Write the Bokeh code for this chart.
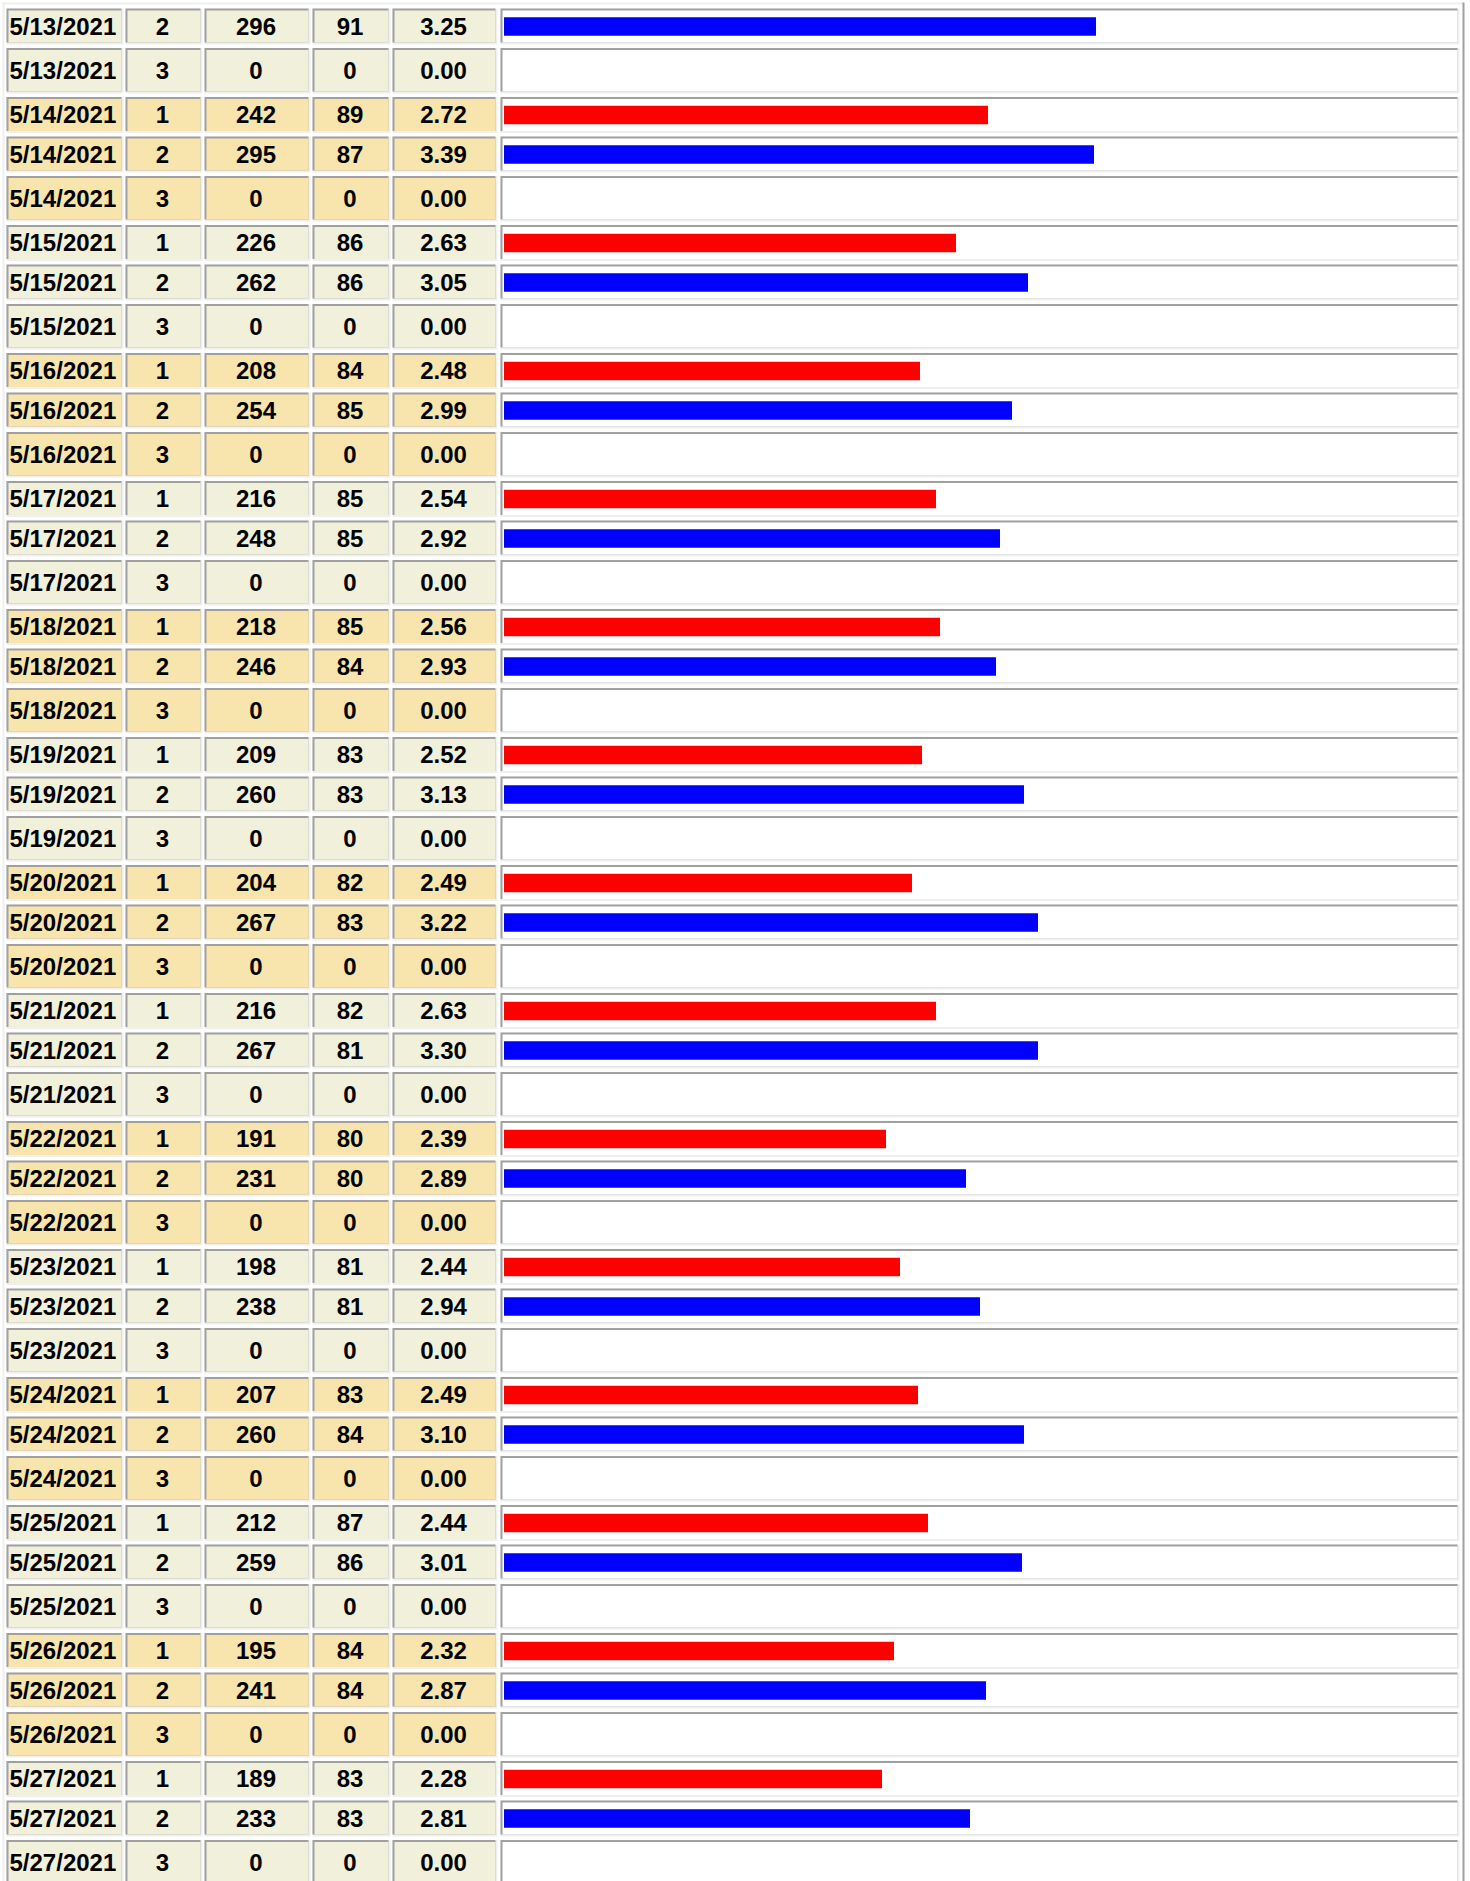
from bokeh.plotting import figure
from bokeh.models import Range1d, ColumnDataSource
from bokeh.embed import file_html
from bokeh.resources import INLINE
from bokeh.core.properties import value

# ---------------- data ----------------
dates = [
    "5/13/2021", "5/13/2021",
    "5/14/2021", "5/14/2021", "5/14/2021",
    "5/15/2021", "5/15/2021", "5/15/2021",
    "5/16/2021", "5/16/2021", "5/16/2021",
    "5/17/2021", "5/17/2021", "5/17/2021",
    "5/18/2021", "5/18/2021", "5/18/2021",
    "5/19/2021", "5/19/2021", "5/19/2021",
    "5/20/2021", "5/20/2021", "5/20/2021",
    "5/21/2021", "5/21/2021", "5/21/2021",
    "5/22/2021", "5/22/2021", "5/22/2021",
    "5/23/2021", "5/23/2021", "5/23/2021",
    "5/24/2021", "5/24/2021", "5/24/2021",
    "5/25/2021", "5/25/2021", "5/25/2021",
    "5/26/2021", "5/26/2021", "5/26/2021",
    "5/27/2021", "5/27/2021", "5/27/2021",
]
shifts = [2, 3] + [1, 2, 3] * 14
totals = [
    296, 0,
    242, 295, 0,
    226, 262, 0,
    208, 254, 0,
    216, 248, 0,
    218, 246, 0,
    209, 260, 0,
    204, 267, 0,
    216, 267, 0,
    191, 231, 0,
    198, 238, 0,
    207, 260, 0,
    212, 259, 0,
    195, 241, 0,
    189, 233, 0,
]
counts = [
    91, 0,
    89, 87, 0,
    86, 86, 0,
    84, 85, 0,
    85, 85, 0,
    85, 84, 0,
    83, 83, 0,
    82, 83, 0,
    82, 81, 0,
    80, 80, 0,
    81, 81, 0,
    83, 84, 0,
    87, 86, 0,
    84, 84, 0,
    83, 83, 0,
]
ratios = [
    3.25, 0.00,
    2.72, 3.39, 0.00,
    2.63, 3.05, 0.00,
    2.48, 2.99, 0.00,
    2.54, 2.92, 0.00,
    2.56, 2.93, 0.00,
    2.52, 3.13, 0.00,
    2.49, 3.22, 0.00,
    2.63, 3.30, 0.00,
    2.39, 2.89, 0.00,
    2.44, 2.94, 0.00,
    2.49, 3.10, 0.00,
    2.44, 3.01, 0.00,
    2.32, 2.87, 0.00,
    2.28, 2.81, 0.00,
]
shift_colors = {1: "#FF0000", 2: "#0000FF", 3: None}

# ---------------- layout / style ----------------
# data units = screen pixels of the page
X0, X1 = 0, 1470
Y0, Y1 = 0, 1881
W = X1 - X0
H = Y1 - Y0

col_left = [6, 125, 204, 312, 392, 500]
col_right = [123, 202, 310, 390, 497, 1459]
FIRST_TOP = 8.0
PITCH_BAR = 39.5
PITCH_EMPTY = 49.0
GAP = 3.5
BORDER = 2.0
BAR_X0 = 503.5
BAR_SCALE = 2.0
BAR_H = 18.5
FONT = value("Liberation Sans")
FSIZE = "24px"
BG_LIGHT = "#F1F0DB"
BG_WHEAT = "#F7E5AD"
DARK = "#A0A0A0"
LIGHT = "#F0F0F0"

p = figure(width=W, height=H, output_backend="svg", toolbar_location=None,
           x_range=Range1d(X0, X1), y_range=Range1d(Y1, Y0),
           min_border=0, outline_line_color=None, background_fill_color="white",
           border_fill_color="white")
p.axis.visible = False
p.grid.visible = False

# outer table border: light top/left, dark right
p.quad(left=[2, 2], right=[1464, 4], top=[2, 2], bottom=[4, 1881],
       fill_color=LIGHT, line_color=None)
p.quad(left=[1462], right=[1464], top=[2], bottom=[1881],
       fill_color=DARK, line_color=None)

# row geometry
tops, bots, fills = [], [], []
y = FIRST_TOP
day_idx = -1
prev = None
for d, t in zip(dates, totals):
    if d != prev:
        day_idx += 1
        prev = d
    pitch = PITCH_BAR if t > 0 else PITCH_EMPTY
    tops.append(y)
    bots.append(y + pitch - GAP)
    fills.append(BG_LIGHT if day_idx % 2 == 0 else BG_WHEAT)
    y += pitch

# cells: light bottom/right border, dark top/left border, fill
L1, R1, T1, B1 = [], [], [], []
L2, R2, T2, B2 = [], [], [], []
L3, R3, T3, B3, C3 = [], [], [], [], []
for i in range(len(dates)):
    for c in range(6):
        l, r, t, b = col_left[c], col_right[c], tops[i], bots[i]
        L1.append(l); R1.append(r); T1.append(t); B1.append(b)
        L2.append(l); R2.append(r - BORDER); T2.append(t); B2.append(b - BORDER)
        L3.append(l + BORDER); R3.append(r - BORDER); T3.append(t + BORDER); B3.append(b - BORDER)
        C3.append("white" if c == 5 else fills[i])
p.quad(left=L1, right=R1, top=T1, bottom=B1, fill_color=LIGHT, line_color=None)
p.quad(left=L2, right=R2, top=T2, bottom=B2, fill_color=DARK, line_color=None)
p.quad(source=ColumnDataSource(dict(l=L3, r=R3, t=T3, b=B3, c=C3)),
       left="l", right="r", top="t", bottom="b", fill_color="c", line_color=None)

# bars
bl, br, bt, bb, bc = [], [], [], [], []
for i, (s, t) in enumerate(zip(shifts, totals)):
    col = shift_colors[s]
    if t > 0 and col:
        mid = (tops[i] + bots[i]) / 2
        bl.append(BAR_X0); br.append(BAR_X0 + BAR_SCALE * t)
        bt.append(mid - BAR_H / 2); bb.append(mid + BAR_H / 2); bc.append(col)
p.quad(source=ColumnDataSource(dict(l=bl, r=br, t=bt, b=bb, c=bc)),
       left="l", right="r", top="t", bottom="b", fill_color="c", line_color=None)

# texts
mids = [(tops[i] + bots[i]) / 2 - 0.5 for i in range(len(dates))]
p.text(x=[9] * len(dates), y=mids, text=dates, text_font=FONT, text_font_size=FSIZE,
       text_font_style="bold", text_align="left", text_baseline="middle", text_color="black")
cols_text = [
    [str(s) for s in shifts],
    [str(t) for t in totals],
    [str(c) for c in counts],
    ["%.2f" % r for r in ratios],
]
for k, txt in enumerate(cols_text, start=1):
    cx = (col_left[k] + col_right[k]) / 2 - 1.5
    p.text(x=[cx] * len(txt), y=mids, text=txt, text_font=FONT, text_font_size=FSIZE,
           text_font_style="bold", text_align="center", text_baseline="middle",
           text_color="black")

open("out.html", "w").write(file_html(p, INLINE))
